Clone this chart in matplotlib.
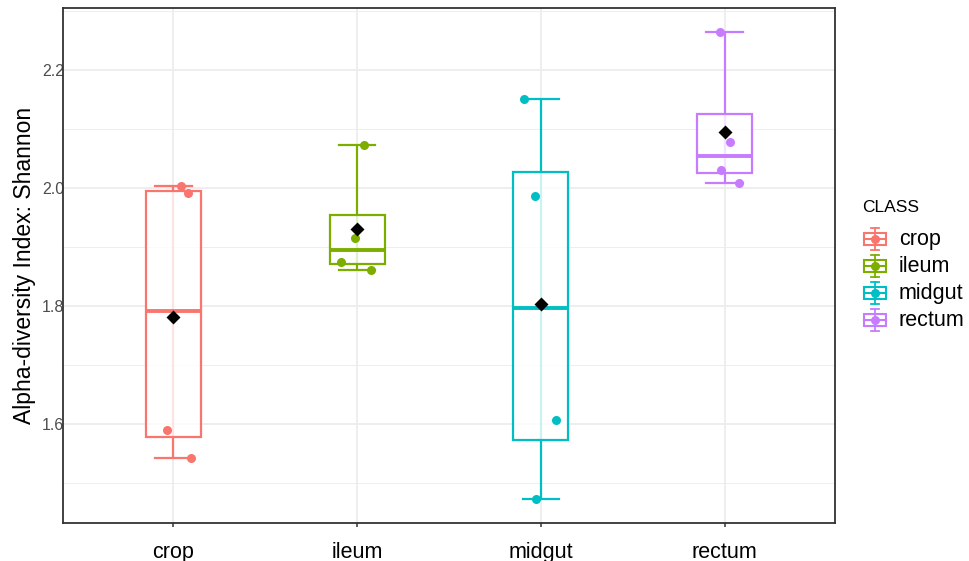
import matplotlib.pyplot as plt
from matplotlib.patches import Rectangle
import numpy as np

plt.rcParams['font.family'] = ['Liberation Sans', 'DejaVu Sans']

# data
classes = ['crop', 'ileum', 'midgut', 'rectum']
colors = ['#F8766D', '#7CAE00', '#00BFC4', '#C77CFF']

crop = [2.003, 1.992, 1.590, 1.542]
ileum = [2.073, 1.915, 1.875, 1.861]
midgut = [2.150, 1.986, 1.606, 1.472]
rectum = [2.264, 2.078, 2.031, 2.009]

# horizontal jitter of the points (x units)
crop_jit = [0.043, 0.082, -0.033, 0.098]
ileum_jit = [0.040, -0.011, -0.089, 0.076]
midgut_jit = [-0.092, -0.033, 0.082, -0.027]
rectum_jit = [-0.027, 0.027, -0.018, 0.076]

values = [crop, ileum, midgut, rectum]
jitters = [crop_jit, ileum_jit, midgut_jit, rectum_jit]

y_ticks = [1.6, 1.8, 2.0, 2.2]
y_minor = [1.5, 1.7, 1.9, 2.1, 2.3]

W, H = 969, 561
fig = plt.figure(figsize=(W / 100, H / 100), dpi=100)
ax = fig.add_axes([63 / W, 1 - 523 / H, (835 - 63) / W, (523 - 8) / H])

ax.set_xlim(0.4, 4.6)
ax.set_ylim(1.432, 2.305)
ax.set_yticks(y_ticks)
ax.set_yticklabels([f"{t:.1f}" for t in y_ticks])
ax.set_yticks(y_minor, minor=True)
ax.set_xticks(range(1, len(classes) + 1))
ax.set_xticklabels(classes)

ax.grid(True, which='major', color='#EBEBEB', linewidth=1.2, zorder=0)
ax.grid(True, which='minor', axis='y', color='#EBEBEB', linewidth=0.6, zorder=0)
ax.set_axisbelow(True)

for s in ax.spines.values():
    s.set_color('#333333')
    s.set_linewidth(1.3)
    s.set_zorder(10)

ax.tick_params(axis='y', which='both', length=0, pad=-1, labelsize=11.5, labelcolor='#4D4D4D')
ax.tick_params(axis='x', which='major', length=3, width=1.1, color='#333333', pad=10.5,
               labelsize=15.5, labelcolor='black')
ax.tick_params(axis='x', which='minor', length=0)

box_w = 0.30
cap_w = 0.20
lw = 1.6
for i, (vals, jit, col) in enumerate(zip(values, jitters, colors)):
    x = i + 1
    v = np.array(vals)
    q1, med, q3 = np.percentile(v, [25, 50, 75])
    iqr = q3 - q1
    lo = v[v >= q1 - 1.5 * iqr].min()
    hi = v[v <= q3 + 1.5 * iqr].max()
    # errorbar whiskers
    ax.plot([x, x], [lo, hi], color=col, lw=lw, zorder=2, solid_capstyle='butt')
    ax.plot([x - cap_w / 2, x + cap_w / 2], [lo, lo], color=col, lw=lw, zorder=2)
    ax.plot([x - cap_w / 2, x + cap_w / 2], [hi, hi], color=col, lw=lw, zorder=2)
    # box
    ax.add_patch(Rectangle((x - box_w / 2, q1), box_w, q3 - q1, facecolor=(1, 1, 1, 0.8),
                           edgecolor=col, lw=lw, zorder=3))
    ax.plot([x - box_w / 2, x + box_w / 2], [med, med], color=col, lw=2.8, zorder=4,
            solid_capstyle='butt')
    # points
    ax.plot(x + np.array(jit), v, 'o', color=col, ms=6.5, mec='none', zorder=5)
    # mean
    ax.plot(x, v.mean(), 'D', color='black', ms=7.5, mec='none', zorder=6)

fig.text(25 / W, 1 - 265 / H, 'Alpha-diversity Index: Shannon', rotation=90,
         ha='center', va='center', fontsize=16.5, color='black')

# legend
lax = fig.add_axes([0, 0, 1, 1], facecolor='none')
lax.set_xlim(0, W)
lax.set_ylim(H, 0)
lax.axis('off')
lax.text(862, 207, 'CLASS', ha='left', va='center', fontsize=12.5, color='black')
for i, (name, col) in enumerate(zip(classes, colors)):
    cy = 239 + 27 * i
    cx = 875
    lax.plot([cx, cx], [cy - 11, cy + 11], color=col, lw=1.3)
    lax.plot([cx - 4, cx + 4], [cy - 11, cy - 11], color=col, lw=1.3)
    lax.plot([cx - 4, cx + 4], [cy + 11, cy + 11], color=col, lw=1.3)
    lax.add_patch(Rectangle((cx - 11, cy - 6), 22, 12, facecolor=(1, 1, 1, 0.8),
                            edgecolor=col, lw=1.5))
    lax.plot([cx - 11, cx + 11], [cy, cy], color=col, lw=1.5)
    lax.plot(cx, cy, 'o', color=col, ms=6.5, mec='none')
    lax.text(899, cy, name, ha='left', va='center', fontsize=15.5, color='black')

fig.savefig('out.png', dpi=100)
